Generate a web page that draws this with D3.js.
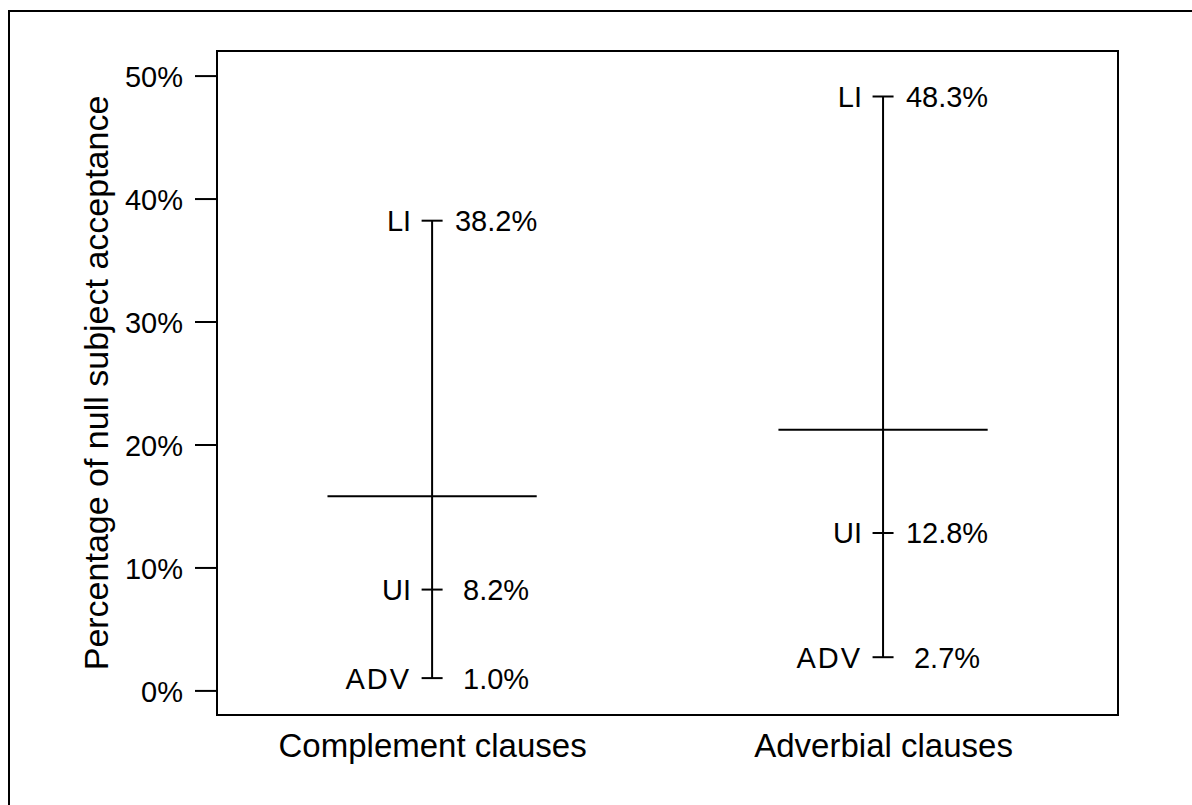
<!DOCTYPE html>
<html>
<head>
<meta charset="utf-8">
<script src="https://cdn.jsdelivr.net/npm/d3@7"></script>
<style>
  body { margin: 0; background: #fff; }
  text { font-family: Arial, "Liberation Sans", sans-serif; fill: #000; }
</style>
</head>
<body>
<div id="chart"></div>
<script>
// Data (percent)
const categories = ["Complement clauses", "Adverbial clauses"];
const liValues = [38.2, 48.3];
const uiValues = [8.2, 12.8];
const advValues = [1.0, 2.7];
const meanValues = [15.8, 21.2];
const yTicks = [0, 10, 20, 30, 40, 50];

const width = 1192;
const height = 805;
const plot = { left: 217, right: 1118, top: 51, bottom: 715 };

const svg = d3.select("#chart")
              .append("svg")
              .attr("width", width)
              .attr("height", height);

// outer frame (only left and top edges are inside the picture)
svg.append("path")
   .attr("d", `M9,${height} V11 H${width}`)
   .attr("fill", "none")
   .attr("stroke", "#000")
   .attr("stroke-width", 2);

// scales: groups sit at 1 and 2 on the x axis
const x = d3.scaleLinear()
            .domain([0.523, 2.521])
            .range([plot.left, plot.right]);

const y = d3.scaleLinear()
            .domain([-2, 52])
            .range([plot.bottom, plot.top]);

const pos = i => x(i + 1);

// plot box
svg.append("rect")
   .attr("x", plot.left)
   .attr("y", plot.top)
   .attr("width", plot.right - plot.left)
   .attr("height", plot.bottom - plot.top)
   .attr("fill", "none")
   .attr("stroke", "#000")
   .attr("stroke-width", 2);

// y axis
const yAxis = svg.append("g")
   .attr("transform", `translate(${plot.left}, 0)`)
   .call(d3.axisLeft(y)
           .tickValues(yTicks)
           .tickFormat(d => d + "%")
           .tickSize(22)
           .tickPadding(12));
yAxis.select(".domain").remove();
yAxis.selectAll("line").attr("stroke-width", 2);
yAxis.selectAll("text")
     .attr("font-size", 29)
     .attr("font-family", null)
     .attr("dy", "0.38em");

// x axis: category names only
const xAxis = svg.append("g")
   .attr("transform", `translate(0, ${plot.bottom})`)
   .call(d3.axisBottom(x)
           .tickValues([1, 2])
           .tickFormat((d, i) => categories[i])
           .tickSize(0)
           .tickPadding(19));
xAxis.select(".domain").remove();
xAxis.selectAll("text")
     .attr("font-size", 33)
     .attr("font-family", null);

// y axis title
svg.append("text")
   .attr("transform", "rotate(-90)")
   .attr("x", -(plot.top + plot.bottom) / 2)
   .attr("y", 108)
   .attr("font-size", 34)
   .style("text-anchor", "middle")
   .text("Percentage of null subject acceptance");

// vertical range lines
const groups = svg.selectAll(".group")
   .data(categories)
   .enter()
   .append("g")
   .attr("class", "group");

groups.append("line")
   .attr("x1", (d, i) => pos(i))
   .attr("x2", (d, i) => pos(i))
   .attr("y1", (d, i) => y(advValues[i]))
   .attr("y2", (d, i) => y(liValues[i]))
   .attr("stroke", "#000")
   .attr("stroke-width", 2);

// mean line
const halfMean = 0.232;
groups.append("line")
   .attr("x1", (d, i) => x(i + 1 - halfMean))
   .attr("x2", (d, i) => x(i + 1 + halfMean))
   .attr("y1", (d, i) => y(meanValues[i]))
   .attr("y2", (d, i) => y(meanValues[i]))
   .attr("stroke", "#000")
   .attr("stroke-width", 2);

// small ticks with labels
const marks = [
  { name: "LI", values: liValues },
  { name: "UI", values: uiValues },
  { name: "ADV", values: advValues }
];

marks.forEach(m => {
  categories.forEach((c, i) => {
    const cx = pos(i);
    const cy = y(m.values[i]);
    svg.append("line")
       .attr("x1", cx - 10.5)
       .attr("x2", cx + 10.5)
       .attr("y1", cy)
       .attr("y2", cy)
       .attr("stroke", "#000")
       .attr("stroke-width", 2);
    svg.append("text")
       .attr("x", cx - 21)
       .attr("y", cy)
       .attr("dy", "0.36em")
       .attr("font-size", 29)
       .attr("letter-spacing", m.name === "ADV" ? 2 : 0)
       .style("text-anchor", "end")
       .text(m.name);
    svg.append("text")
       .attr("x", cx + 64)
       .attr("y", cy)
       .attr("dy", "0.36em")
       .attr("font-size", 29)
       .style("text-anchor", "middle")
       .text(m.values[i].toFixed(1) + "%");
  });
});
</script>
</body>
</html>
